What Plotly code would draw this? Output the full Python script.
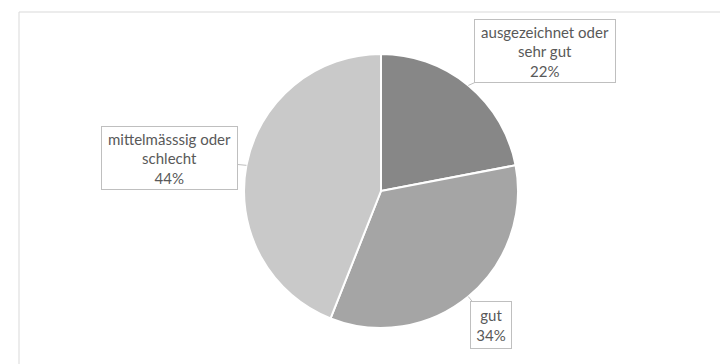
import math
import plotly.graph_objects as go

# Survey answers and their shares (percent)
categories = ["ausgezeichnet oder sehr gut", "gut", "mittelmässsig oder schlecht"]
label_lines = [["ausgezeichnet oder", "sehr gut"], ["gut"], ["mittelmässsig oder", "schlecht"]]
shares = [22, 34, 44]
colors = ["#878787", "#a5a5a5", "#c9c9c9"]

W, H = 720, 364
cx, cy, r = 381, 191, 137  # pie centre and radius in pixels

# Callout boxes (same order as categories): centre (px) and size (px)
box_centers = [(545, 51), (491, 325), (169, 158)]
box_sizes = [(136, 58), (36, 42), (131, 58)]

fig = go.Figure(
    go.Pie(
        labels=categories,
        values=shares,
        sort=False,
        direction="clockwise",
        rotation=0,
        marker=dict(colors=colors, line=dict(color="white", width=2)),
        textinfo="none",
        hoverinfo="label+percent",
        showlegend=False,
        domain=dict(
            x=[(cx - r) / W, (cx + r) / W],
            y=[1 - (cy + r) / H, 1 - (cy - r) / H],
        ),
    )
)

# Data labels with leader lines to the middle of each slice's arc
total = sum(shares)
cum = 0
annotations = []
for lines, val, (bx, by), (bw, bh) in zip(label_lines, shares, box_centers, box_sizes):
    mid = (cum + val / 2) / total * 2 * math.pi
    cum += val
    tx = cx + r * math.sin(mid)
    ty = cy - r * math.cos(mid)
    text = "<br>".join(lines + [f"{round(val / total * 100)}%"])
    annotations.append(
        dict(
            x=tx / W,
            y=1 - ty / H,
            xref="paper",
            yref="paper",
            ax=bx - tx,
            ay=by - ty,
            axref="pixel",
            ayref="pixel",
            text=text,
            showarrow=True,
            arrowhead=0,
            arrowwidth=1,
            arrowcolor="#bfbfbf",
            standoff=0,
            bgcolor="white",
            bordercolor="#bfbfbf",
            borderwidth=1,
            borderpad=2,
            width=bw,
            height=bh,
            align="center",
            valign="middle",
            font=dict(family="Lato, Noto Sans, sans-serif", size=15, color="#595959"),
        )
    )

fig.update_layout(
    width=W,
    height=H,
    margin=dict(l=0, r=0, t=0, b=0),
    paper_bgcolor="white",
    plot_bgcolor="white",
    annotations=annotations,
    shapes=[
        dict(
            type="rect",
            xref="paper",
            yref="paper",
            x0=19 / W,
            x1=1.02,
            y0=-0.05,
            y1=1 - 12 / H,
            line=dict(color="#d9d9d9", width=1),
            layer="below",
        )
    ],
)

fig.write_html("out.html")
